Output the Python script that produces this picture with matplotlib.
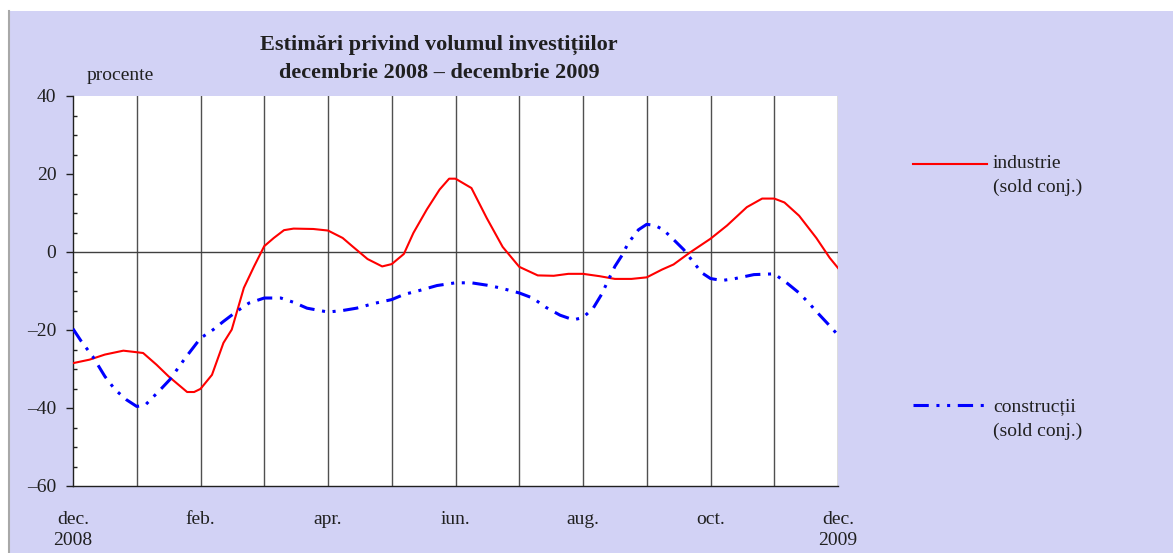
import matplotlib
matplotlib.use("Agg")
from matplotlib import pyplot as plt
from matplotlib.patches import Rectangle
from matplotlib.lines import Line2D

# months counted from dec. 2008 (0) to dec. 2009 (12)
tick_pos = [0, 2, 4, 6, 8, 10, 12]
tick_labels = ["dec.\n2008", "feb.", "apr.", "iun.", "aug.", "oct.", "dec.\n2009"]

ind_x = [0.0, 0.26, 0.5, 0.79, 1.0, 1.1, 1.31, 1.5, 1.79, 1.9, 2.0, 2.18, 2.36, 2.49,
         2.68, 2.84, 3.0, 3.15, 3.31, 3.46, 3.77, 4.0, 4.23, 4.38, 4.62, 4.85, 5.0,
         5.19, 5.34, 5.55, 5.75, 5.9, 6.0, 6.25, 6.49, 6.74, 7.0, 7.29, 7.54, 7.77,
         8.0, 8.26, 8.5, 8.76, 9.0, 9.24, 9.42, 9.68, 10.0, 10.26, 10.57, 10.81, 11.0,
         11.16, 11.39, 11.66, 11.87, 12.0]
ind_y = [-28.5, -27.6, -26.3, -25.3, -25.7, -25.9, -28.9, -31.9, -35.9, -35.9, -35.1,
         -31.5, -23.3, -19.9, -9.2, -3.7, 1.5, 3.6, 5.6, 6.0, 5.9, 5.5, 3.6, 1.5, -1.8,
         -3.7, -3.1, -0.5, 4.9, 10.9, 16.0, 18.8, 18.8, 16.4, 8.7, 1.3, -3.8, -6.0,
         -6.1, -5.6, -5.6, -6.2, -6.9, -6.9, -6.5, -4.5, -3.2, -0.1, 3.4, 6.8, 11.5,
         13.7, 13.7, 12.7, 9.3, 3.6, -1.5, -4.1]

con_x = [0.0, 0.13, 0.31, 0.5, 0.66, 0.84, 1.0, 1.13, 1.37, 1.52, 1.76, 2.0, 2.2, 2.36,
         2.57, 2.76, 3.0, 3.26, 3.46, 3.67, 4.0, 4.23, 4.45, 4.72, 5.0, 5.19, 5.45,
         5.71, 6.0, 6.25, 6.49, 6.7, 7.0, 7.21, 7.42, 7.64, 7.85, 8.0, 8.16, 8.29, 8.4,
         8.5, 8.61, 8.71, 8.87, 9.0, 9.13, 9.26, 9.42, 9.58, 9.74, 9.87, 10.0, 10.18,
         10.36, 10.68, 11.0, 11.21, 11.39, 11.55, 11.68, 11.84, 12.0]
con_y = [-19.7, -22.9, -26.8, -31.9, -35.3, -37.9, -39.6, -39.3, -35.3, -32.7, -27.2,
         -22.1, -19.9, -17.8, -15.2, -13.1, -11.8, -11.8, -12.9, -14.4, -15.4, -15.0,
         -14.4, -13.2, -12.2, -10.9, -9.8, -8.6, -7.9, -7.9, -8.5, -9.2, -10.5, -11.8,
         -14.2, -16.2, -17.4, -16.8, -14.4, -10.9, -7.1, -3.7, -0.9, 2.3, 5.7, 7.1, 6.8,
         5.7, 3.2, 0.6, -2.8, -5.4, -6.8, -7.3, -6.9, -5.8, -5.6, -8.1, -10.5, -13.2,
         -15.6, -18.4, -21.3]

serif = ["Liberation Serif", "DejaVu Serif"]
plt.rcParams["font.family"] = serif
txt = "#202020"
blue_dash = (0, (5, 2.5, 1, 2.5, 1, 2.5))

W, H = 1173, 553
fig = plt.figure(figsize=(W / 100, H / 100), dpi=100, facecolor="white")

# patterned background of the original, as a flat light lavender
fig.patches.append(Rectangle((10 / W, 0), 1, 1 - 11 / H, transform=fig.transFigure,
                             facecolor="#d2d2f5", edgecolor="none", zorder=-5))
fig.add_artist(Line2D([9 / W, 9 / W], [0, 1 - 11 / H], color="#a8a8a8", lw=1.5, zorder=-4))

ax = fig.add_axes([73 / W, 1 - 486 / H, 765 / W, 390 / H])
ax.set_zorder(2)
ax.set_facecolor("white")
ax.set_xlim(0, 12)
ax.set_ylim(-60, 40)

for m in range(1, 13):
    ax.axvline(m, color="#505050", lw=1.0, zorder=1)
ax.axhline(0, color="#404040", lw=1.0, zorder=1)

ax.plot(ind_x, ind_y, color="#ff0000", lw=1.5, zorder=3)
ax.plot(con_x, con_y, color="#0000ff", lw=2.2, zorder=3, linestyle=blue_dash)

for s in ["top", "right"]:
    ax.spines[s].set_visible(False)
for s in ["left", "bottom"]:
    ax.spines[s].set_color(txt)
    ax.spines[s].set_linewidth(1.0)

ax.set_yticks([40, 20, 0, -20, -40, -60])
ax.set_yticklabels(["40", "20", "0", "–20", "–40", "–60"])
ax.set_yticks(range(-55, 40, 5), minor=True)
ax.tick_params(axis="y", which="major", direction="out", length=5, width=1,
               labelsize=14, pad=7, colors=txt)
ax.tick_params(axis="y", which="minor", direction="in", length=3, width=1, colors=txt)
ax.set_xticks(tick_pos)
ax.set_xticklabels(tick_labels, fontsize=14, linespacing=1.3, va="top")
ax.tick_params(axis="x", length=0, pad=18, colors=txt)

fig.text(439 / W, 1 - 45 / H, "Estimări privind volumul investițiilor", ha="center",
         va="center", fontsize=16, fontweight="bold", color=txt)
fig.text(439 / W, 1 - 73 / H, "decembrie 2008 – decembrie 2009", ha="center",
         va="center", fontsize=16, fontweight="bold", color=txt)
fig.text(87 / W, 1 - 75 / H, "procente", ha="left", va="center", fontsize=14, color=txt)

# legend drawn by hand to keep the two-line labels as in the original
fig.add_artist(Line2D([913 / W, 987 / W], [1 - 164 / H, 1 - 164 / H], color="#ff0000", lw=1.5))
fig.text(993 / W, 1 - 164 / H, "industrie", ha="left", va="center", fontsize=14, color=txt)
fig.text(993 / W, 1 - 187 / H, "(sold conj.)", ha="left", va="center", fontsize=14, color=txt)
fig.add_artist(Line2D([913 / W, 987 / W], [1 - 405 / H, 1 - 405 / H], color="#0000ff", lw=2.2,
                      linestyle=blue_dash))
fig.text(993 / W, 1 - 407 / H, "construcții", ha="left", va="center", fontsize=14, color=txt)
fig.text(993 / W, 1 - 431 / H, "(sold conj.)", ha="left", va="center", fontsize=14, color=txt)

fig.savefig("out.png", dpi=100, facecolor="white")
